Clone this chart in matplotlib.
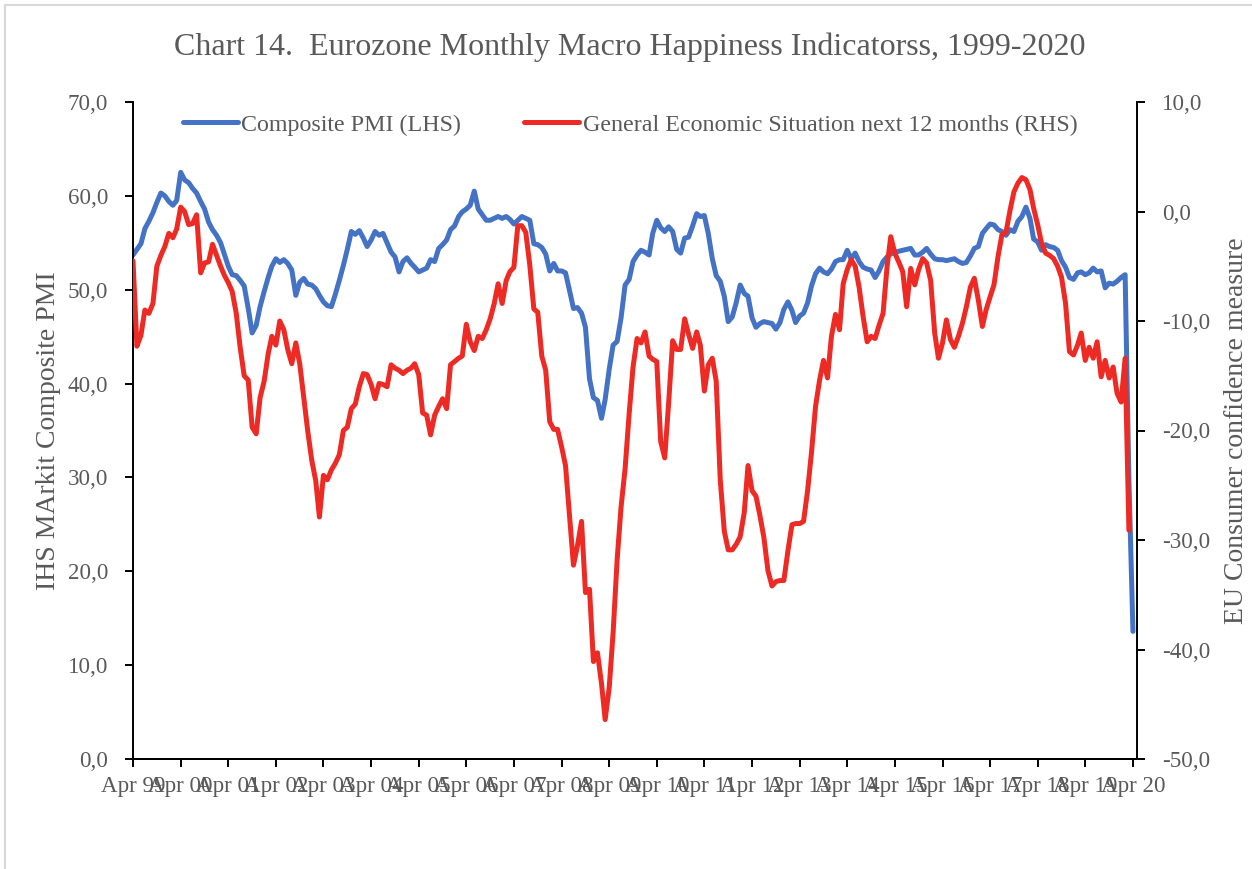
import numpy as np
import pandas as pd
import matplotlib
matplotlib.use("Agg")
import matplotlib.pyplot as plt
from matplotlib.ticker import FuncFormatter
from matplotlib.patches import Rectangle

# Composite PMI, monthly from Apr 1999 (one row per year, Apr..Mar)
pmi = [
    53.7, 54.3, 54.9, 56.5, 57.3, 58.2, 59.3, 60.3, 60.0, 59.4, 59.0, 59.5,
    62.5, 61.7, 61.4, 60.8, 60.3, 59.4, 58.6, 57.2, 56.4, 55.8, 55.0, 53.8,
    52.5, 51.6, 51.5, 51.0, 50.4, 48.0, 45.4, 46.2, 48.2, 49.8, 51.3, 52.5,
    53.3, 52.9, 53.2, 52.8, 52.1, 49.4, 50.8, 51.2, 50.6, 50.5, 50.1, 49.4,
    48.7, 48.3, 48.2, 49.5, 51.0, 52.6, 54.3, 56.2, 55.9, 56.3, 55.5, 54.6,
    55.3, 56.2, 55.8, 56.0, 55.0, 54.0, 53.5, 51.9, 53.0, 53.4, 52.8, 52.4,
    51.9, 52.1, 52.3, 53.2, 53.0, 54.4, 54.8, 55.3, 56.4, 56.8, 57.8, 58.3,
    58.6, 59.0, 60.5, 58.6, 58.0, 57.4, 57.4, 57.6, 57.8, 57.6, 57.8, 57.5,
    57.0, 57.4, 57.8, 57.6, 57.4, 54.9, 54.8, 54.5, 53.8, 52.0, 52.8, 52.0,
    52.0, 51.8, 49.9, 48.0, 48.1, 47.5, 46.0, 40.5, 38.5, 38.2, 36.3, 38.3,
    41.5, 44.1, 44.5, 47.0, 50.5, 51.1, 53.0, 53.7, 54.2, 54.0, 53.7, 56.0,
    57.4, 56.6, 56.2, 56.7, 56.2, 54.3, 53.9, 55.5, 55.6, 56.8, 58.1, 57.8,
    57.9, 56.0, 53.3, 51.5, 50.9, 49.3, 46.6, 47.1, 48.6, 50.5, 49.6, 49.3,
    47.0, 46.0, 46.4, 46.6, 46.5, 46.4, 45.8, 46.5, 47.9, 48.7, 47.8, 46.5,
    47.2, 47.5, 48.6, 50.4, 51.7, 52.3, 51.9, 51.7, 52.2, 53.0, 53.2, 53.2,
    54.2, 53.3, 53.9, 53.0, 52.4, 52.2, 52.1, 51.3, 52.0, 53.0, 53.5, 53.8,
    54.0, 54.1, 54.2, 54.3, 54.4, 53.7, 53.7, 54.0, 54.4, 53.8, 53.3, 53.2,
    53.2, 53.1, 53.2, 53.3, 53.0, 52.8, 52.9, 53.6, 54.4, 54.6, 56.0, 56.5,
    57.0, 56.9, 56.4, 56.2, 55.8, 56.4, 56.2, 57.3, 57.8, 58.8, 57.6, 55.4,
    55.1, 54.2, 54.8, 54.6, 54.5, 54.2, 53.1, 52.4, 51.3, 51.1, 51.8, 51.9,
    51.6, 51.8, 52.3, 51.9, 52.0, 50.2, 50.7, 50.6, 50.9, 51.3, 51.6, 29.7,
    13.6,
]

# General economic situation next 12 months, monthly from Apr 1999
confidence = [
    -4.5, -12.3, -11.3, -9.0, -9.3, -8.4, -5.0, -4.0, -3.2, -2.0, -2.4, -1.6,
    0.4, 0.0, -1.2, -1.1, -0.3, -5.6, -4.7, -4.6, -3.0, -4.0, -5.0, -5.8,
    -6.5, -7.3, -9.3, -12.4, -15.0, -15.4, -19.7, -20.3, -17.0, -15.5, -13.0, -11.4,
    -12.2, -10.0, -10.8, -12.6, -13.9, -12.0, -13.9, -17.0, -20.0, -22.7, -24.6, -27.9,
    -24.1, -24.5, -23.6, -23.0, -22.2, -20.0, -19.7, -18.0, -17.6, -16.0, -14.8, -14.9,
    -15.8, -17.1, -15.7, -15.8, -16.0, -14.0, -14.3, -14.5, -14.8, -14.5, -14.3, -13.9,
    -14.9, -18.4, -18.6, -20.4, -18.6, -17.8, -17.1, -18.0, -14.0, -13.7, -13.4, -13.2,
    -10.3, -11.9, -12.7, -11.4, -11.6, -10.8, -9.8, -8.4, -6.6, -8.4, -6.3, -5.5,
    -5.1, -1.3, -1.3, -1.9, -4.9, -8.9, -9.2, -13.2, -14.5, -19.2, -19.9, -19.9,
    -21.5, -23.2, -27.8, -32.3, -30.5, -28.3, -34.8, -34.5, -41.1, -40.3, -43.1, -46.4,
    -43.5, -38.5, -31.8, -27.0, -23.5, -18.5, -14.2, -11.6, -12.0, -11.0, -13.2, -13.5,
    -13.7, -21.0, -22.5, -17.5, -11.8, -12.6, -12.6, -9.8, -11.2, -12.5, -11.0, -12.2,
    -16.4, -14.0, -13.4, -15.5, -24.5, -29.2, -30.9, -30.9, -30.4, -29.7, -27.5, -23.2,
    -25.5, -26.0, -27.8, -29.8, -32.8, -34.2, -33.8, -33.7, -33.7, -31.0, -28.6, -28.5,
    -28.5, -28.3, -25.5, -22.0, -17.8, -15.4, -13.6, -15.2, -11.4, -9.4, -10.8, -6.6,
    -5.3, -4.4, -5.0, -6.9, -9.6, -11.9, -11.4, -11.6, -10.4, -9.3, -5.0, -2.3,
    -3.8, -4.6, -5.5, -8.7, -5.2, -6.7, -5.3, -4.3, -4.7, -6.3, -11.1, -13.4,
    -12.0, -9.9, -11.7, -12.4, -11.4, -10.2, -8.7, -6.9, -6.1, -8.1, -10.5, -9.0,
    -7.8, -6.7, -4.1, -2.1, -1.9, 0.1, 1.8, 2.6, 3.1, 2.9, 2.0, 0.3,
    -1.2, -2.9, -3.8, -4.0, -4.3, -5.0, -6.0, -8.4, -12.8, -13.1, -12.2, -11.1,
    -13.6, -12.4, -13.4, -11.9, -15.1, -13.6, -15.2, -14.2, -16.6, -17.4, -13.4, -29.1,
]

dates = pd.date_range("1999-04-01", periods=len(pmi), freq="MS")
tick_dates = pd.date_range("1999-04-01", "2020-04-01", freq="12MS")
tick_labels = [d.strftime("%b %y") for d in tick_dates]

grey = "#595959"
blue = "#4472C4"
red = "#EE2A24"

plt.rcParams["font.family"] = ["Liberation Serif", "DejaVu Serif"]

fig = plt.figure(figsize=(12.52, 8.69), dpi=100)
ax = fig.add_axes([133 / 1252, 1 - 759 / 869, 1004 / 1252, 657 / 869])
ax2 = ax.twinx()

l1, = ax.plot(dates, pmi, color=blue, lw=3.6, solid_capstyle="round",
              label="Composite PMI (LHS)")
l2, = ax2.plot(dates[:len(confidence)], confidence, color=red, lw=3.6,
               solid_capstyle="round",
               label="General Economic Situation next 12 months (RHS)")

ax.set_xlim(dates[0], dates[-1] + pd.Timedelta(days=31))
ax.set_ylim(0, 70)
ax2.set_ylim(-50, 10)
ax.set_yticks(np.arange(0, 71, 10))
ax2.set_yticks(np.arange(-50, 11, 10))
ax.set_xticks(tick_dates)
ax.set_xticklabels(tick_labels)

fmt = FuncFormatter(lambda v, p: f"{v:.1f}".replace(".", ","))
ax.yaxis.set_major_formatter(fmt)
ax2.yaxis.set_major_formatter(fmt)

for a in (ax, ax2):
    a.spines["top"].set_visible(False)
    for s in a.spines.values():
        s.set_linewidth(1.4)
    a.tick_params(direction="out", length=6, width=1.4, colors="black",
                  labelcolor=grey, labelsize=16.6)
ax.spines["right"].set_visible(False)
ax2.spines["left"].set_visible(False)
ax.tick_params(axis="y", pad=12)
ax2.tick_params(axis="y", pad=12)
ax.tick_params(axis="x", pad=6)

ax.set_ylabel("IHS MArkit Composite PMI", fontsize=20, color=grey, labelpad=5)
ax2.set_ylabel("EU Consumer confidence measure", fontsize=20, color=grey,
               labelpad=10)

fig.text(0.503, 0.946, "Chart 14.  Eurozone Monthly Macro Happiness Indicatorss, 1999-2020",
         ha="center", va="center", fontsize=23, color=grey)

leg = ax2.legend(handles=[l1, l2], loc="center", bbox_to_anchor=(0.495, 0.965),
                 ncol=2, frameon=False, fontsize=17.3, handlelength=2.3,
                 handletextpad=0.15, columnspacing=2.6, borderaxespad=0)
for t in leg.get_texts():
    t.set_color(grey)

fig.patches.append(Rectangle((5 / 1252, -0.05), 1.2, 1 - 5 / 869 + 0.05,
                             transform=fig.transFigure, fill=False,
                             ec="#d9d9d9", lw=1.5))

fig.savefig("out.png", dpi=100)
